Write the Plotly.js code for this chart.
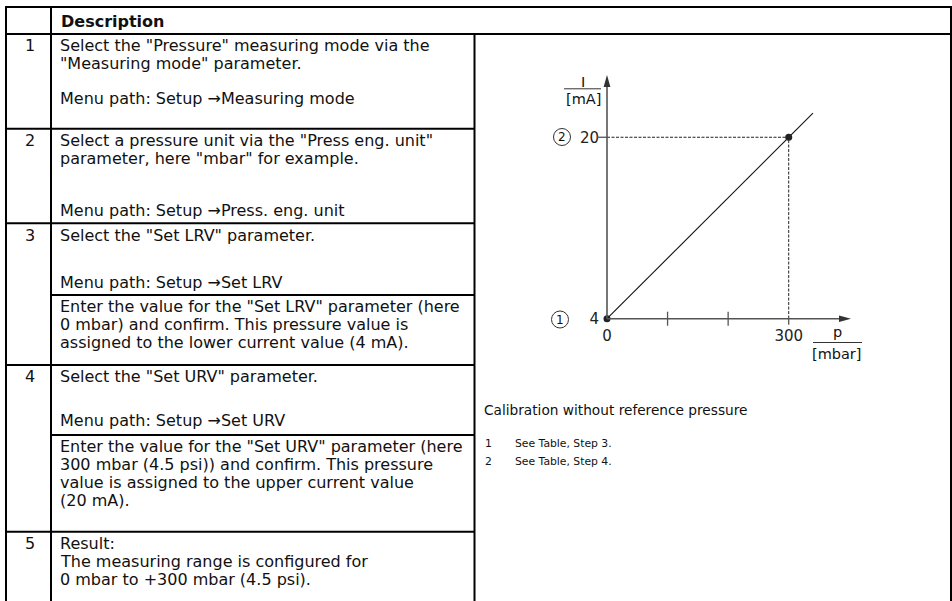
<!DOCTYPE html>
<html><head><meta charset="utf-8">
<script src="https://cdn.plot.ly/plotly-3.0.1.min.js"></script>
<style>html,body{margin:0;padding:0;background:#fff;}#chart{width:952px;height:601px;}</style>
</head><body><div id="chart"></div>
<script>
// ---------------- data ----------------
const headerText = 'Description';
const stepNumbers = ['1', '2', '3', '4', '5'];
const row1Lines = ['Select the "Pressure" measuring mode via the', '"Measuring mode" parameter.', 'Menu path: Setup \u2192Measuring mode'];
const row2Lines = ['Select a pressure unit via the "Press eng. unit"', 'parameter, here "mbar" for example.', 'Menu path: Setup \u2192Press. eng. unit'];
const row3aLines = ['Select the "Set LRV" parameter.', 'Menu path: Setup \u2192Set LRV'];
const row3bLines = ['Enter the value for the "Set LRV" parameter (here', '0 mbar) and confirm. This pressure value is', 'assigned to the lower current value (4 mA).'];
const row4aLines = ['Select the "Set URV" parameter.', 'Menu path: Setup \u2192Set URV'];
const row4bLines = ['Enter the value for the "Set URV" parameter (here', '300 mbar (4.5 psi)) and confirm. This pressure', 'value is assigned to the upper current value', '(20 mA).'];
const row5Lines = ['Result:', 'The measuring range is configured for', '0 mbar to +300 mbar (4.5 psi).'];

const pointPressure = [0, 300];      // mbar : LRV, URV
const pointCurrent = [4, 20];        // mA
const linePressure = [0, 340];       // calibration line (extends past URV)
const lineCurrent = [4, 22.13];
const xTickVals = [0, 300];
const xTickText = ['0', '300'];
const xMinorTicks = [100, 200];
const yTickVals = [4, 20];
const yTickText = ['4', '20'];
const yAxisLabel = ['I', '[mA]'];
const xAxisLabel = ['p', '[mbar]'];
const markerNums = ['1', '2'];
const captionText = 'Calibration without reference pressure';
const legendNums = ['1', '2'];
const legendTexts = ['See Table, Step 3.', 'See Table, Step 4.'];

// ---------------- geometry ----------------
const W = 952, H = 601;
const FONT = 'DejaVu Sans, sans-serif';
const X0PX = 607, XS = 0.6057;   // px of p=0, px per mbar
const Y4PX = 318.7, YS = 11.34;  // px of I=4, px per mA
const yAxisTop = 4 + (Y4PX - 75) / YS;
const xAxisEnd = (851 - X0PX) / XS;

const shapes = [];
const annotations = [];
const BLACK = '#000';

function hline(y, x0, x1) { shapes.push({type:'line', xref:'x', yref:'y', x0:x0, x1:x1, y0:y, y1:y, line:{color:BLACK, width:2}}); }
function vline(x, y0, y1) { shapes.push({type:'line', xref:'x', yref:'y', x0:x, x1:x, y0:y0, y1:y1, line:{color:BLACK, width:2}}); }

// table grid
const L = 6, C1 = 51, C2 = 474.5, R = 951, TOP = 7, HB = 34;
vline(L, TOP, H); vline(C1, TOP, H); vline(C2, HB, H); vline(R, TOP, H);
hline(TOP, L - 1, R + 1); hline(HB, L, R);
[128.7, 223.3, 365, 531.7].forEach(y => hline(y, L, C2));
[295, 435].forEach(y => hline(y, C1, C2));

function txt(x, y, s, size, anchor, extra) {
  annotations.push(Object.assign({xref:'x', yref:'y', x:x, y:y, text:s, showarrow:false,
    xanchor:anchor || 'left', yanchor:'middle', font:{family:FONT, size:size, color:'#111'}}, extra || {}));
}

// header
txt(58.5, 21, '<b>' + headerText + '</b>', 16);

// step numbers
const numY = [45.7, 140.2, 235, 376.7, 543.5];
stepNumbers.forEach((n, i) => txt(29.5, numY[i], n, 16, 'center'));

// description lines
const TX = 58;
function block(lines, ys) { lines.forEach((s, i) => txt(TX, ys[i], s, 16)); }
block(row1Lines, [45.7, 63.7, 98]);
block(row2Lines, [140.2, 158.2, 210.5]);
block(row3aLines, [235, 282]);
block(row3bLines, [306.7, 324.7, 342.5]);
block(row4aLines, [376.7, 420.5]);
block(row4bLines, [446.7, 464.7, 482.5, 500.5]);
block(row5Lines, [543.5, 561.5, 579.5]);

// caption + legend
txt(481.5, 410, captionText, 13.7);
legendNums.forEach((n, i) => { txt(482.5, 443.5 + i * 18.3, n, 10.8); txt(512.5, 443.5 + i * 18.3, legendTexts[i], 10.8); });

// chart axis labels (fractions)
txt(582.5, 82, yAxisLabel[0], 14.5, 'center');
shapes.push({type:'line', xref:'x', yref:'y', x0:564, x1:601, y0:88.8, y1:88.8, line:{color:'#333', width:1}});
txt(583, 98.5, yAxisLabel[1], 14.5, 'center');
txt(837, 332, xAxisLabel[0], 14.5, 'center');
shapes.push({type:'line', xref:'x', yref:'y', x0:813, x1:862, y0:342.5, y1:342.5, line:{color:'#333', width:1}});
txt(837, 353.5, xAxisLabel[1], 14.5, 'center');

// circled markers
const circ = [[560, 319.5], [562, 137]];
markerNums.forEach((n, i) => {
  const c = circ[i];
  shapes.push({type:'circle', xref:'x', yref:'y', x0:c[0] - 8.5, x1:c[0] + 8.5, y0:c[1] - 8.5, y1:c[1] + 8.5, line:{color:'#333', width:1}});
  txt(c[0], c[1], n, 12, 'center');
});

// chart axes (in chart coordinates)
const AX = '#555';
shapes.push({type:'line', xref:'x2', yref:'y2', x0:0, x1:0, y0:pointCurrent[0], y1:yAxisTop - 0.5, line:{color:AX, width:1.6}});
shapes.push({type:'line', xref:'x2', yref:'y2', x0:0, x1:xAxisEnd - 8, y0:pointCurrent[0], y1:pointCurrent[0], line:{color:AX, width:1.6}});
shapes.push({type:'path', xref:'x2', yref:'y2', xsizemode:'pixel', ysizemode:'pixel', xanchor:0, yanchor:yAxisTop,
  path:'M0,0L-3.4,-12L3.4,-12Z', fillcolor:'#333', line:{width:0}});
shapes.push({type:'path', xref:'x2', yref:'y2', xsizemode:'pixel', ysizemode:'pixel', xanchor:xAxisEnd, yanchor:pointCurrent[0],
  path:'M0,0L-12,3.2L-12,-3.2Z', fillcolor:'#333', line:{width:0}});
xMinorTicks.forEach(v => shapes.push({type:'line', xref:'x2', yref:'y2', ysizemode:'pixel', yanchor:pointCurrent[0],
  x0:v, x1:v, y0:-7, y1:7, line:{color:AX, width:1.3}}));
shapes.push({type:'line', xref:'x2', yref:'y2', ysizemode:'pixel', yanchor:pointCurrent[0],
  x0:pointPressure[1], x1:pointPressure[1], y0:-6, y1:0, line:{color:AX, width:1.3}});
shapes.push({type:'line', xref:'x2', yref:'y2', xsizemode:'pixel', xanchor:0,
  x0:-10, x1:0, y0:pointCurrent[1], y1:pointCurrent[1], line:{color:AX, width:1.3}});

const traces = [
  {type:'scatter', mode:'lines', xaxis:'x2', yaxis:'y2',
   x:[pointPressure[0], pointPressure[1], pointPressure[1]], y:[pointCurrent[1], pointCurrent[1], pointCurrent[0]],
   line:{color:'#222', width:1, dash:'3px,1.5px'}, hoverinfo:'skip'},
  {type:'scatter', mode:'lines', xaxis:'x2', yaxis:'y2', x:linePressure, y:lineCurrent,
   line:{color:'#111', width:1.1}, hoverinfo:'skip'},
  {type:'scatter', mode:'markers', xaxis:'x2', yaxis:'y2', x:pointPressure, y:pointCurrent,
   marker:{color:'#222', size:7}, hoverinfo:'skip'}
];

const layout = {
  width:W, height:H, margin:{l:0, r:0, t:0, b:0, pad:0},
  paper_bgcolor:'#fff', plot_bgcolor:'rgba(0,0,0,0)', showlegend:false,
  xaxis:{range:[0, W], visible:false, fixedrange:true},
  yaxis:{range:[H, 0], visible:false, fixedrange:true},
  xaxis2:{overlaying:'x', range:[-X0PX / XS, (W - X0PX) / XS], anchor:'free', position:(H - Y4PX) / H,
    showgrid:false, zeroline:false, showline:false, ticks:'', tickvals:xTickVals, ticktext:xTickText,
    ticklabelstandoff:6, tickfont:{family:FONT, size:15, color:'#222'}, fixedrange:true},
  yaxis2:{overlaying:'y', range:[4 - (H - Y4PX) / YS, 4 + Y4PX / YS], anchor:'free', position:X0PX / W, side:'left',
    showgrid:false, zeroline:false, showline:false, ticks:'', tickvals:yTickVals, ticktext:yTickText,
    ticklabelstandoff:8, tickfont:{family:FONT, size:15, color:'#222'}, fixedrange:true},
  shapes:shapes, annotations:annotations
};

Plotly.newPlot('chart', traces, layout, {staticPlot:true, displayModeBar:false});
</script></body></html>
